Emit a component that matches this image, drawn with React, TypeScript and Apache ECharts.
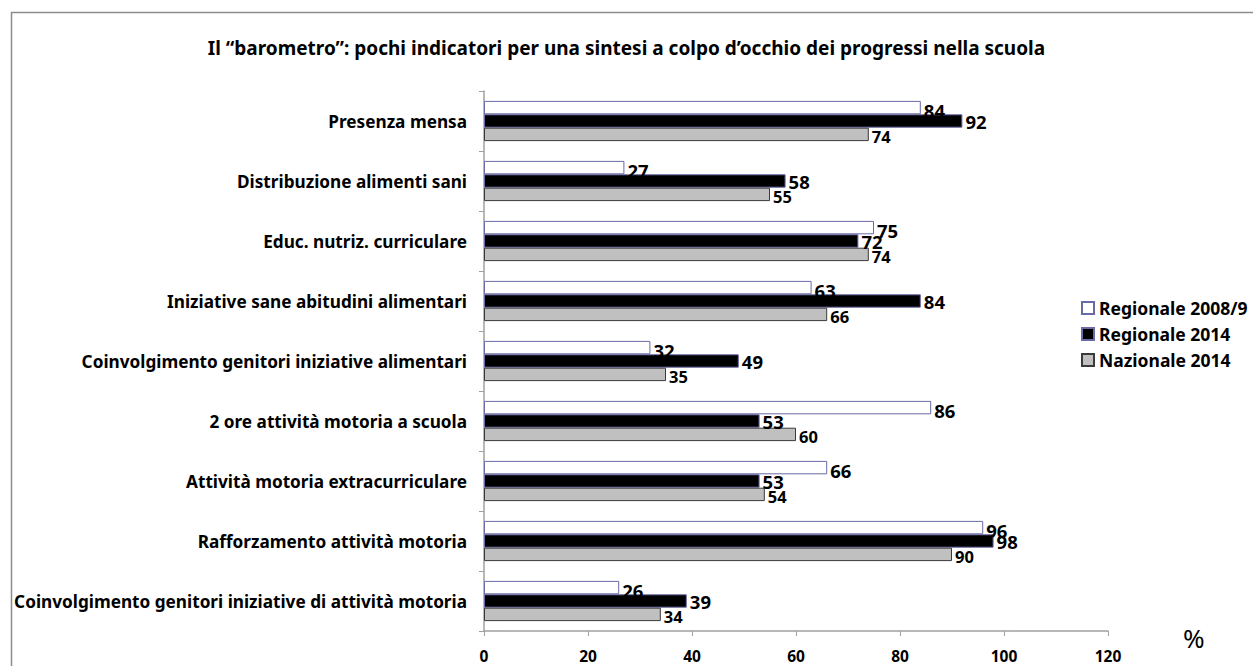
import React, { useEffect, useRef } from "react";
import * as echarts from "echarts";

const categories = [
  "Presenza mensa",
  "Distribuzione alimenti sani",
  "Educ. nutriz. curriculare",
  "Iniziative sane abitudini alimentari",
  "Coinvolgimento genitori iniziative alimentari",
  "2 ore attività motoria a scuola",
  "Attività motoria extracurriculare",
  "Rafforzamento attività motoria",
  "Coinvolgimento genitori iniziative di attività motoria",
];
const regionale2008 = [84, 27, 75, 63, 32, 86, 66, 96, 26];
const regionale2014 = [92, 58, 72, 84, 49, 53, 53, 98, 39];
const nazionale2014 = [74, 55, 74, 66, 35, 60, 54, 90, 34];
const xTicks = [0, 20, 40, 60, 80, 100, 120];

const FONT = "'Noto Sans', 'Open Sans', sans-serif";

export default function App() {
  const ref = useRef<HTMLDivElement>(null);
  useEffect(() => {
    if (!ref.current) return;
    const chart = echarts.init(ref.current, undefined, { renderer: "svg" });
    const labelBase = {
      show: true,
      position: "right" as const,
      fontFamily: FONT,
      fontWeight: "bold" as const,
      color: "#000",
      distance: 3,
    };
    chart.setOption({
      animation: false,
      backgroundColor: "#fff",
      textStyle: { fontFamily: FONT },
      title: {
        text: "Il “barometro”: pochi indicatori per una sintesi a colpo d’occhio dei progressi nella scuola",
        left: "center",
        top: 33,
        textStyle: { fontFamily: FONT, fontSize: 19, fontWeight: "bold", color: "#000" },
      },
      legend: {
        orient: "vertical",
        left: 1076,
        top: 294,
        itemWidth: 12,
        itemHeight: 12,
        itemGap: 8,
        icon: "rect",
        textStyle: { fontFamily: FONT, fontSize: 17.5, fontWeight: "bold", color: "#000" },
        data: ["Regionale 2008/9", "Regionale 2014", "Nazionale 2014"],
      },
      grid: { left: 484, right: 145, top: 91, bottom: 35, containLabel: false },
      xAxis: {
        type: "value",
        min: xTicks[0],
        max: xTicks[xTicks.length - 1],
        interval: 20,
        splitLine: { show: false },
        axisLine: { show: true, lineStyle: { color: "#a0a0a0", width: 1.5 } },
        axisTick: { show: true, length: 5, inside: false, lineStyle: { color: "#a0a0a0" } },
        axisLabel: { fontFamily: FONT, fontSize: 15.5, fontWeight: "bold", color: "#000", margin: 17 },
      },
      yAxis: {
        type: "category",
        data: categories,
        inverse: true,
        axisLine: { show: true, lineStyle: { color: "#a0a0a0", width: 1.5 } },
        axisTick: { show: true, length: 5, lineStyle: { color: "#a0a0a0" } },
        axisLabel: { fontFamily: FONT, fontSize: 17.2, fontWeight: "bold", color: "#000", margin: 17 },
      },
      series: [
        {
          name: "Regionale 2008/9",
          type: "bar",
          data: regionale2008,
          barGap: "0%",
          barCategoryGap: "33%",
          itemStyle: { color: "#ffffff", borderColor: "#6a6aa6", borderWidth: 1 },
          label: { ...labelBase, fontSize: 18.5, offset: [0, 3] },
        },
        {
          name: "Regionale 2014",
          type: "bar",
          data: regionale2014,
          barGap: "0%",
          barCategoryGap: "33%",
          itemStyle: { color: "#000000", borderColor: "#6a6aa6", borderWidth: 1 },
          label: { ...labelBase, fontSize: 18.5 },
        },
        {
          name: "Nazionale 2014",
          type: "bar",
          data: nazionale2014,
          barGap: "0%",
          barCategoryGap: "33%",
          itemStyle: { color: "#c0c0c0", borderColor: "#3a3a3a", borderWidth: 1 },
          label: { ...labelBase, fontSize: 16.5, offset: [0, 2] },
        },
      ],
      graphic: [
        {
          type: "rect",
          left: 9,
          top: 10,
          shape: { width: 1260, height: 700 },
          style: { fill: "none", stroke: "#8c8c8c", lineWidth: 1.5 },
          silent: true,
          z: -1,
        },
        {
          type: "text",
          left: 1183,
          top: 625,
          style: { text: "%", fontFamily: FONT, fontSize: 26, fill: "#000" },
        },
      ],
    });
    return () => chart.dispose();
  }, []);
  return <div ref={ref} style={{ width: 1253, height: 666, position: "absolute", left: 0, top: 0 }} />;
}
